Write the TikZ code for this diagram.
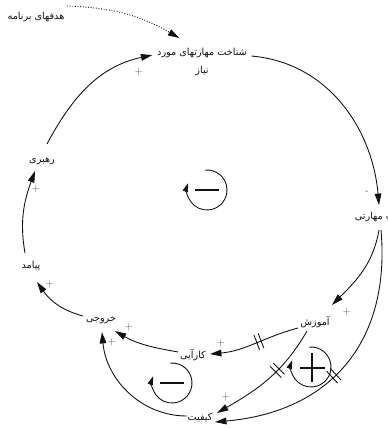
\documentclass[tikz,border=0pt]{standalone}
\usepackage{fontspec}
\usepackage{tikz}
\usetikzlibrary{
  arrows.meta,
  calc,
  decorations.markings
}
\newfontfamily\farsifont[Script=Arabic]{DejaVu Sans}
\TeXXeTstate=1
\newcommand{\fatext}[1]{\beginR #1\endR}
\definecolor{cldInk}{HTML}{111111}
\definecolor{cldSign}{HTML}{666666}
\tikzset{
  varnode/.style={
    font=\farsifont\fontsize{5.5}{10.5}\selectfont, inner sep=2pt, align=center, text=cldInk
  },
  link/.style={-{Triangle[length=6.5pt, width=3.8pt]}, line width=0.5pt, cldInk},
  goallink/.style={link, densely dotted},
  sign/.style={font=\fontsize{5}{6}\selectfont, text=cldSign, inner sep=0pt},
  loopsym/.style={-{Triangle[length=5pt, width=3pt]}, line width=0.5pt, cldInk},
  polarity/.style={line width=1.1pt, cldInk},
  delay/.style={postaction={decorate, decoration={markings,
    mark=at position #1 with {\draw[-, solid, line width=0.5pt, cldInk]
      (-1.3pt,-4.5pt) -- (-1.3pt,4.5pt) (1.3pt,-4.5pt) -- (1.3pt,4.5pt);}}}}
}
\begin{document}
\begin{tikzpicture}[x=0.02cm, y=0.02cm]
  \useasboundingbox (0,0) rectangle (387,-428);
  % variables
  \node[varnode] (goals) at (36,-17) {\fatext{هدفهای برنامه}};
  \node[varnode] (skills) at (202,-62) {\fatext{شناخت مهارتهای مورد}\\\fatext{نیاز}};
  \node[varnode, anchor=west] (gap) at (351,-217) {\fatext{عدم تناسب مهارتی}};
  \node[varnode] (train) at (315,-322) {\fatext{آموزش}};
  \node[varnode] (eff) at (193,-355) {\fatext{کارآیی}};
  \node[varnode] (qual) at (200,-418) {\fatext{کیفیت}};
  \node[varnode] (out) at (101,-320) {\fatext{خروجی}};
  \node[varnode] (outcome) at (31,-266) {\fatext{پیامد}};
  \node[varnode] (lead) at (42,-161) {\fatext{رهبری}};
  % links
  \draw[goallink] ($(goals)+(31,11)$) to[out=-2, in=150] ($(skills.north west)+(26,6)$);
  \draw[link] ($(lead)+(5,17)$) to[out=62, in=-168] ($(skills.north west)+(-1,-11)$);
  \draw[link] ($(skills.north east)+(1,-12)$) to[out=-5, in=95] ($(gap.west)+(28,12)$);
  \draw[link] ($(gap.west)+(28,-13)$) to[out=-100, in=45] ($(train)+(17,17)$);
  \draw[link, delay=0.55] ($(gap.west)+(30,-13)$) to[out=-85, in=5, looseness=1.15] ($(qual)+(15,-4)$);
  \draw[link, delay=0.45] ($(train)+(-17,-6)$) to[out=195, in=5] ($(eff)+(17,1)$);
  \draw[link, delay=0.4] ($(train)+(-8,-9)$) to[out=-120, in=30] ($(qual)+(17,5)$);
  \draw[link] ($(eff)+(-15,3)$) to[out=170, in=-30] ($(out)+(14,-11)$);
  \draw[link] ($(qual)+(-13,2)$) to[out=180, in=-85] ($(out)+(1,-12)$);
  \draw[link] ($(out)+(-18,4)$) to[out=165, in=-55] ($(outcome)+(6,-16)$);
  \draw[link] ($(outcome)+(-6,13)$) to[out=100, in=-110] ($(lead)+(-7,-10)$);
  % polarities
  \node[sign] (p1) at (139,-72) {+};
  \node[sign] (p2) at (367,-192) {-};
  \node[sign] (p3) at (347,-312) {+};
  \node[sign] (p4) at (221,-343) {+};
  \node[sign] (p5) at (226,-397) {+};
  \node[sign] (p6) at (129,-327) {+};
  \node[sign] (p7) at (112,-342) {+};
  \node[sign] (p8) at (50,-284) {+};
  \node[sign] (p9) at (36,-189) {+};
  % loop markers
  \draw[loopsym] (207,-190) ++(95:20) arc[start angle=95, end angle=-200, radius=20];
  \draw[polarity] (195,-190) -- (219,-190);
  \draw[loopsym] (172,-383) ++(95:20) arc[start angle=95, end angle=-200, radius=20];
  \draw[polarity] (160,-383) -- (184,-383);
  \draw[loopsym] (311,-367) ++(95:20) arc[start angle=95, end angle=-200, radius=20];
  \draw[polarity] (312,-353) -- (312,-382) (300,-368) -- (325,-368);
\end{tikzpicture}
\end{document}
